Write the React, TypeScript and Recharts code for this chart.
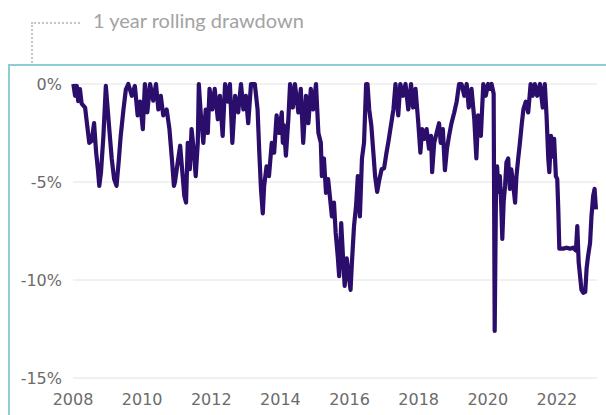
import { LineChart, Line, XAxis, YAxis, CartesianGrid } from "recharts";

// decimal year of each reading, grouped by calendar year
const dates = [
  2008.01, 2008.06, 2008.11, 2008.15, 2008.2, 2008.25, 2008.35, 2008.41, 2008.47, 2008.54, 2008.61, 2008.67, 2008.72, 2008.76, 2008.81, 2008.88, 2008.95,
  2009.0, 2009.05, 2009.12, 2009.19, 2009.26, 2009.32, 2009.38, 2009.46, 2009.53, 2009.6, 2009.7, 2009.79, 2009.87, 2009.94,
  2010.02, 2010.08, 2010.15, 2010.23, 2010.32, 2010.4, 2010.47, 2010.54, 2010.61, 2010.71, 2010.79, 2010.86, 2010.92, 2010.95,
  2011.03, 2011.1, 2011.14, 2011.22, 2011.27, 2011.32, 2011.38, 2011.43, 2011.49, 2011.55, 2011.61, 2011.64, 2011.7, 2011.77, 2011.84, 2011.9, 2011.95,
  2012.03, 2012.1, 2012.19, 2012.25, 2012.33, 2012.4, 2012.48, 2012.54, 2012.61, 2012.69, 2012.78, 2012.86, 2012.93,
  2013.0, 2013.07, 2013.15, 2013.26, 2013.34, 2013.39, 2013.44, 2013.49, 2013.53, 2013.6, 2013.67, 2013.75, 2013.82, 2013.89, 2013.96,
  2014.04, 2014.07, 2014.1, 2014.16, 2014.23, 2014.28, 2014.36, 2014.42, 2014.52, 2014.59, 2014.66, 2014.74, 2014.81, 2014.88, 2014.95,
  2015.03, 2015.1, 2015.17, 2015.2, 2015.26, 2015.32, 2015.38, 2015.43, 2015.49, 2015.55, 2015.6, 2015.66, 2015.7, 2015.76, 2015.82, 2015.86, 2015.92, 2015.98,
  2016.03, 2016.07, 2016.13, 2016.19, 2016.24, 2016.3, 2016.36, 2016.42, 2016.48, 2016.52, 2016.57, 2016.63, 2016.69, 2016.74, 2016.8, 2016.86, 2016.93,
  2017.0, 2017.07, 2017.12, 2017.2, 2017.27, 2017.33, 2017.41, 2017.47, 2017.55, 2017.62, 2017.7, 2017.78, 2017.84, 2017.91, 2017.99,
  2018.05, 2018.1, 2018.16, 2018.23, 2018.3, 2018.36, 2018.39, 2018.45, 2018.52, 2018.59, 2018.64, 2018.7, 2018.76, 2018.82, 2018.88, 2018.95,
  2019.03, 2019.1, 2019.17, 2019.24, 2019.32, 2019.39, 2019.45, 2019.53, 2019.61, 2019.67, 2019.72, 2019.8, 2019.87, 2019.94,
  2020.01, 2020.06, 2020.11, 2020.17, 2020.2, 2020.24, 2020.27, 2020.31, 2020.35, 2020.39, 2020.42, 2020.46, 2020.5, 2020.54, 2020.59, 2020.64, 2020.68, 2020.74, 2020.79, 2020.83, 2020.88, 2020.93, 2020.98,
  2021.03, 2021.1, 2021.17, 2021.24, 2021.3, 2021.36, 2021.43, 2021.51, 2021.59, 2021.65, 2021.7, 2021.75, 2021.78, 2021.83, 2021.88, 2021.92, 2021.97,
  2022.01, 2022.04, 2022.07, 2022.18, 2022.28, 2022.38, 2022.47, 2022.55, 2022.59, 2022.63, 2022.67, 2022.71, 2022.76, 2022.82, 2022.86, 2022.9, 2022.96, 2023.0, 2023.05, 2023.09, 2023.13,
];

// 1 year rolling drawdown, %
const drawdown = [
  0, -0.6, -0.1, -0.87, -0.26, -1.0, -1.2, -2.1, -3.0, -2.9, -2.0, -3.5, -4.35, -5.2, -4.5, -2.65, -0.1,
  -1.2, -2.3, -3.8, -4.85, -5.2, -4.0, -2.65, -1.3, -0.27, 0, -0.6, -0.1, -1.6, -0.9,
  -2.3, 0, -1.45, 0, -0.85, 0, -1.3, -0.6, -1.6, -1.3, -2.3, -3.8, -5.2, -5.0,
  -4.0, -3.15, -4.0, -5.7, -6.05, -3.0, -4.35, -2.3, -3.3, -4.7, -3.0, 0, -1.6, -3.0, -1.3, -2.5, -0.25,
  -1.3, -0.25, -1.8, -0.6, -2.65, 0, -0.9, 0, -3.0, -0.6, -1.45, 0, -1.3,
  -0.6, -2.0, 0, 0, -1.3, -3.5, -5.4, -6.6, -5.2, -4.2, -4.7, -3.0, -3.5, -1.6, -2.5,
  -1.45, -3.0, -2.1, -3.65, -1.8, 0, -1.2, 0, -1.45, -0.25, -3.0, -0.6, -2.0, -0.25, -1.3,
  0, -2.5, -3.0, -4.7, -3.8, -5.55, -4.85, -5.7, -6.75, -6.05, -7.6, -8.8, -9.8, -7.1, -9.1, -10.3, -8.9, -9.8,
  -10.5, -9.1, -7.25, -6.2, -4.7, -6.75, -3.8, -3.0, 0, 0, -1.3, -2.1, -3.5, -4.7, -5.5, -4.9, -4.35,
  -4.3, -3.5, -3.0, -2.1, -1.3, 0, -1.6, 0, -0.6, 0, -1.3, 0, -1.2, -0.25, -2.0,
  -3.5, -2.3, -2.8, -2.3, -3.3, -2.65, -4.5, -3.0, -2.5, -2.0, -3.0, -2.3, -4.4, -3.3, -2.65, -2.0,
  -1.45, -0.9, 0, 0, -0.6, 0, -1.2, -0.25, -1.8, -3.8, -1.6, -2.65, 0, -0.6,
  0, -0.25, 0, -0.5, -12.6, -5.0, -4.2, -5.5, -4.7, -6.2, -7.9, -6.0, -5.2, -4.0, -3.8, -5.35, -4.35, -5.2, -6.05, -4.7, -3.8, -3.0, -2.1,
  -1.3, -0.9, -1.45, 0, -0.6, 0, -0.6, 0, -1.2, 0, -1.6, -3.8, -4.5, -2.65, -3.7, -2.8, -4.7,
  -4.85, -6.4, -8.4, -8.4, -8.35, -8.4, -8.35, -8.5, -7.25, -9.1, -9.8, -10.5, -10.65, -10.6, -9.4, -8.8, -8.1, -6.75, -5.7, -5.35, -6.4,
];

const yearTicks = [2008, 2010, 2012, 2014, 2016, 2018, 2020, 2022];
const pctTicks = [-15, -10, -5, 0];

const data = dates.map((date, i) => ({ date, drawdown: drawdown[i] }));

const tickStyle = { fill: "#6b6b6b", fontSize: 16, fontFamily: "DejaVu Sans" };

export default function App() {
  return (
    <div
      style={{
        position: "fixed",
        left: 0,
        top: 0,
        width: 606,
        height: 415,
        overflow: "hidden",
        background: "#fff",
      }}
    >
      {/* title with the dotted leader line */}
      <div
        style={{
          position: "absolute",
          left: 93,
          top: 8,
          fontFamily: "Lato",
          fontSize: 20,
          color: "#a3a3a3",
          whiteSpace: "nowrap",
        }}
      >
        1 year rolling drawdown
      </div>
      <div
        style={{
          position: "absolute",
          left: 31,
          top: 22,
          width: 47,
          height: 42,
          borderTop: "2px dotted #c4c4c4",
          borderLeft: "2px dotted #c4c4c4",
        }}
      />
      <div
        style={{
          position: "absolute",
          left: 8,
          top: 64,
          width: 640,
          height: 400,
          border: "2px solid #8fcdd5",
        }}
      />

      <div style={{ position: "absolute", left: 0, top: 0, fontFamily: "DejaVu Sans" }}>
        <LineChart
          width={606}
          height={415}
          data={data}
          margin={{ top: 84, right: 9, bottom: 7, left: 13 }}
        >
          <CartesianGrid vertical={false} stroke="#e2e2e2" />
          <XAxis
            dataKey="date"
            type="number"
            domain={[2008, 2023.16]}
            ticks={yearTicks}
            axisLine={false}
            tickLine={false}
            tickMargin={10}
            height={30}
            tick={tickStyle}
          />
          <YAxis
            type="number"
            domain={[-15, 0]}
            ticks={pctTicks}
            tickFormatter={(v) => `${v}%`}
            axisLine={false}
            tickLine={false}
            tickMargin={5}
            width={60}
            tick={tickStyle}
          />
          <Line
            type="linear"
            dataKey="drawdown"
            stroke="#2b0e6c"
            strokeWidth={4.2}
            strokeLinejoin="round"
            dot={false}
            isAnimationActive={false}
          />
        </LineChart>
      </div>
    </div>
  );
}
